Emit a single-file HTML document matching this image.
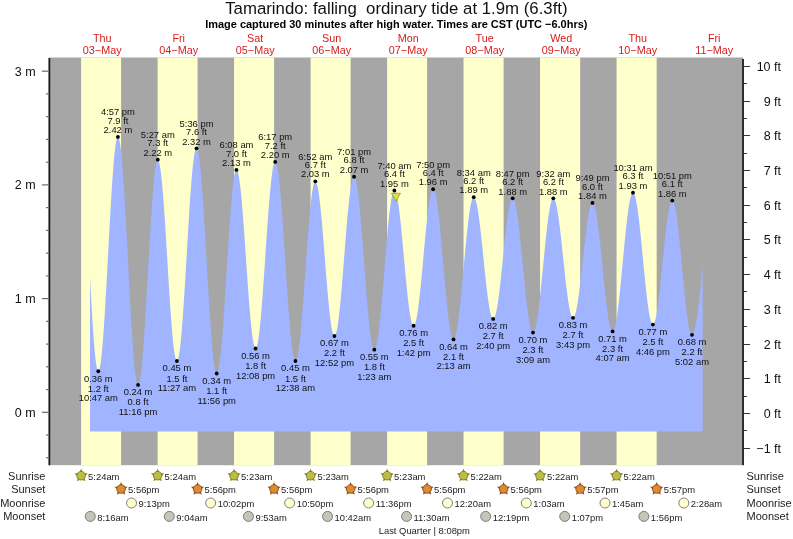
<!DOCTYPE html><html><head><meta charset="utf-8"><style>html,body{margin:0;padding:0;background:#fff;overflow:hidden;width:793px;height:539px;}svg{display:block;will-change:transform;}text{font-family:"Liberation Sans",sans-serif;}</style></head><body>
<svg width="793" height="539" viewBox="0 0 793 539">
<rect width="793" height="539" fill="#fff"/>
<rect x="49.0" y="57.5" width="694.0" height="407.7" fill="#a6a6a6"/><rect x="81.11" y="57.5" width="39.95" height="407.7" fill="#ffffcc"/><rect x="157.62" y="57.5" width="39.95" height="407.7" fill="#ffffcc"/><rect x="234.08" y="57.5" width="40.01" height="407.7" fill="#ffffcc"/><rect x="310.58" y="57.5" width="40.01" height="407.7" fill="#ffffcc"/><rect x="387.09" y="57.5" width="40.01" height="407.7" fill="#ffffcc"/><rect x="463.54" y="57.5" width="40.06" height="407.7" fill="#ffffcc"/><rect x="540.05" y="57.5" width="40.11" height="407.7" fill="#ffffcc"/><rect x="616.56" y="57.5" width="40.11" height="407.7" fill="#ffffcc"/>
<polygon points="90.00,431.5 90.00,277.61 90.68,290.23 91.36,302.43 92.04,314.07 92.72,324.97 93.40,335.00 94.08,344.02 94.77,351.90 95.45,358.55 96.13,363.86 96.81,367.78 97.49,370.25 98.17,371.23 98.85,370.76 99.53,368.90 100.21,365.68 100.89,361.15 101.57,355.35 102.25,348.35 102.93,340.24 103.62,331.11 104.30,321.07 104.98,310.23 105.66,298.73 106.34,286.71 107.02,274.30 107.70,261.65 108.38,248.91 109.06,236.23 109.74,223.76 110.42,211.65 111.10,200.04 111.78,189.08 112.47,178.88 113.15,169.57 113.83,161.26 114.51,154.04 115.19,148.01 115.87,143.24 116.55,139.77 117.23,137.66 117.91,136.93 118.59,137.58 119.27,139.63 119.95,143.04 120.63,147.78 121.32,153.79 122.00,161.02 122.68,169.37 123.36,178.75 124.04,189.05 124.72,200.17 125.40,211.97 126.08,224.32 126.76,237.09 127.44,250.12 128.12,263.28 128.80,276.40 129.49,289.36 130.17,301.99 130.85,314.16 131.53,325.73 132.21,336.57 132.89,346.56 133.57,355.58 134.25,363.54 134.93,370.33 135.61,375.90 136.29,380.17 136.97,383.09 137.65,384.64 138.34,384.80 139.02,383.62 139.70,381.13 140.38,377.37 141.06,372.36 141.74,366.18 142.42,358.90 143.10,350.59 143.78,341.37 144.46,331.33 145.14,320.60 145.82,309.30 146.50,297.57 147.19,285.53 147.87,273.35 148.55,261.15 149.23,249.08 149.91,237.28 150.59,225.89 151.27,215.06 151.95,204.89 152.63,195.52 153.31,187.05 153.99,179.58 154.67,173.20 155.35,167.99 156.04,164.00 156.72,161.29 157.40,159.89 158.08,159.79 158.76,160.97 159.44,163.39 160.12,167.02 160.80,171.81 161.48,177.71 162.16,184.64 162.84,192.52 163.52,201.24 164.20,210.71 164.89,220.79 165.57,231.36 166.25,242.30 166.93,253.47 167.61,264.72 168.29,275.91 168.97,286.91 169.65,297.58 170.33,307.79 171.01,317.40 171.69,326.30 172.37,334.37 173.05,341.52 173.74,347.66 174.42,352.70 175.10,356.60 175.78,359.29 176.46,360.74 177.14,360.94 177.82,359.88 178.50,357.56 179.18,354.03 179.86,349.31 180.54,343.47 181.22,336.57 181.91,328.69 182.59,319.94 183.27,310.41 183.95,300.22 184.63,289.48 185.31,278.34 185.99,266.91 186.67,255.33 187.35,243.75 188.03,232.29 188.71,221.11 189.39,210.32 190.07,200.06 190.76,190.44 191.44,181.59 192.12,173.61 192.80,166.60 193.48,160.63 194.16,155.77 194.84,152.10 195.52,149.64 196.20,148.43 196.88,148.49 197.56,149.80 198.24,152.36 198.92,156.14 199.61,161.09 200.29,167.16 200.97,174.28 201.65,182.38 202.33,191.35 203.01,201.11 203.69,211.53 204.37,222.51 205.05,233.92 205.73,245.63 206.41,257.51 207.09,269.43 207.77,281.26 208.46,292.85 209.14,304.09 209.82,314.85 210.50,325.00 211.18,334.43 211.86,343.04 212.54,350.72 213.22,357.40 213.90,363.00 214.58,367.46 215.26,370.71 215.94,372.74 216.62,373.52 217.31,373.06 217.99,371.41 218.67,368.60 219.35,364.65 220.03,359.62 220.71,353.56 221.39,346.54 222.07,338.65 222.75,329.97 223.43,320.61 224.11,310.68 224.79,300.30 225.47,289.58 226.16,278.65 226.84,267.64 227.52,256.68 228.20,245.89 228.88,235.40 229.56,225.35 230.24,215.83 230.92,206.96 231.60,198.86 232.28,191.61 232.96,185.29 233.64,179.99 234.32,175.75 235.01,172.64 235.69,170.69 236.37,169.93 237.05,170.32 237.73,171.83 238.41,174.42 239.09,178.08 239.77,182.75 240.45,188.37 241.13,194.88 241.81,202.19 242.49,210.22 243.18,218.86 243.86,228.00 244.54,237.53 245.22,247.33 245.90,257.28 246.58,267.25 247.26,277.12 247.94,286.77 248.62,296.08 249.30,304.92 249.98,313.20 250.66,320.80 251.34,327.63 252.03,333.60 252.71,338.65 253.39,342.70 254.07,345.71 254.75,347.64 255.43,348.47 256.11,348.18 256.79,346.79 257.47,344.31 258.15,340.77 258.83,336.21 259.51,330.69 260.19,324.27 260.88,317.03 261.56,309.06 262.24,300.45 262.92,291.30 263.60,281.72 264.28,271.82 264.96,261.73 265.64,251.56 266.32,241.44 267.00,231.47 267.68,221.80 268.36,212.51 269.04,203.74 269.73,195.58 270.41,188.12 271.09,181.47 271.77,175.69 272.45,170.86 273.13,167.03 273.81,164.25 274.49,162.55 275.17,161.95 275.85,162.46 276.53,164.08 277.21,166.78 277.89,170.54 278.58,175.31 279.26,181.05 279.94,187.68 280.62,195.13 281.30,203.33 281.98,212.17 282.66,221.56 283.34,231.40 284.02,241.57 284.70,251.97 285.38,262.47 286.06,272.96 286.74,283.32 287.43,293.44 288.11,303.20 288.79,312.50 289.47,321.23 290.15,329.29 290.83,336.60 291.51,343.06 292.19,348.62 292.87,353.21 293.55,356.77 294.23,359.27 294.91,360.68 295.59,360.99 296.28,360.23 296.96,358.44 297.64,355.65 298.32,351.87 299.00,347.16 299.68,341.58 300.36,335.17 301.04,328.03 301.72,320.22 302.40,311.85 303.08,303.01 303.76,293.80 304.44,284.33 305.13,274.70 305.81,265.04 306.49,255.44 307.17,246.03 307.85,236.90 308.53,228.18 309.21,219.95 309.89,212.31 310.57,205.35 311.25,199.16 311.93,193.80 312.61,189.33 313.30,185.81 313.98,183.28 314.66,181.77 315.34,181.29 316.02,181.81 316.70,183.29 317.38,185.71 318.06,189.04 318.74,193.24 319.42,198.26 320.10,204.03 320.78,210.49 321.46,217.54 322.15,225.11 322.83,233.10 323.51,241.41 324.19,249.93 324.87,258.56 325.55,267.19 326.23,275.71 326.91,284.03 327.59,292.02 328.27,299.60 328.95,306.66 329.63,313.13 330.31,318.92 331.00,323.95 331.68,328.16 332.36,331.51 333.04,333.95 333.72,335.45 334.40,335.99 335.08,335.57 335.76,334.21 336.44,331.92 337.12,328.73 337.80,324.69 338.48,319.83 339.16,314.22 339.85,307.92 340.53,301.01 341.21,293.56 341.89,285.68 342.57,277.44 343.25,268.96 343.93,260.32 344.61,251.64 345.29,243.01 345.97,234.55 346.65,226.34 347.33,218.49 348.01,211.09 348.70,204.22 349.38,197.98 350.06,192.43 350.74,187.65 351.42,183.67 352.10,180.57 352.78,178.36 353.46,177.08 354.14,176.75 354.82,177.37 355.50,178.94 356.18,181.44 356.86,184.85 357.55,189.14 358.23,194.24 358.91,200.11 359.59,206.67 360.27,213.87 360.95,221.61 361.63,229.81 362.31,238.39 362.99,247.24 363.67,256.26 364.35,265.36 365.03,274.44 365.71,283.40 366.40,292.12 367.08,300.53 367.76,308.53 368.44,316.02 369.12,322.92 369.80,329.16 370.48,334.67 371.16,339.39 371.84,343.26 372.52,346.25 373.20,348.31 373.88,349.42 374.57,349.59 375.25,348.83 375.93,347.18 376.61,344.65 377.29,341.27 377.97,337.07 378.65,332.12 379.33,326.45 380.01,320.15 380.69,313.27 381.37,305.90 382.05,298.12 382.73,290.02 383.42,281.69 384.10,273.23 384.78,264.73 385.46,256.29 386.14,248.01 386.82,239.98 387.50,232.29 388.18,225.04 388.86,218.29 389.54,212.13 390.22,206.63 390.90,201.86 391.58,197.86 392.27,194.68 392.95,192.36 393.63,190.93 394.31,190.39 394.99,190.73 395.67,191.91 396.35,193.90 397.03,196.69 397.71,200.23 398.39,204.49 399.07,209.41 399.75,214.93 400.43,220.98 401.12,227.49 401.80,234.38 402.48,241.56 403.16,248.95 403.84,256.45 404.52,263.97 405.20,271.41 405.88,278.69 406.56,285.72 407.24,292.40 407.92,298.66 408.60,304.42 409.28,309.61 409.97,314.16 410.65,318.02 411.33,321.13 412.01,323.47 412.69,325.00 413.37,325.70 414.05,325.57 414.73,324.63 415.41,322.88 416.09,320.36 416.77,317.08 417.45,313.09 418.13,308.43 418.82,303.17 419.50,297.36 420.18,291.07 420.86,284.38 421.54,277.37 422.22,270.13 422.90,262.73 423.58,255.27 424.26,247.83 424.94,240.52 425.62,233.40 426.30,226.58 426.99,220.12 427.67,214.11 428.35,208.62 429.03,203.71 429.71,199.44 430.39,195.87 431.07,193.04 431.75,190.98 432.43,189.71 433.11,189.25 433.79,189.62 434.47,190.80 435.15,192.80 435.84,195.59 436.52,199.14 437.20,203.41 437.88,208.35 438.56,213.90 439.24,220.02 439.92,226.62 440.60,233.64 441.28,241.00 441.96,248.61 442.64,256.40 443.32,264.28 444.00,272.15 444.69,279.94 445.37,287.56 446.05,294.92 446.73,301.94 447.41,308.55 448.09,314.67 448.77,320.24 449.45,325.19 450.13,329.46 450.81,333.02 451.49,335.82 452.17,337.83 452.85,339.02 453.54,339.40 454.22,338.96 454.90,337.74 455.58,335.74 456.26,332.99 456.94,329.52 457.62,325.37 458.30,320.58 458.98,315.21 459.66,309.31 460.34,302.96 461.02,296.22 461.70,289.17 462.39,281.88 463.07,274.45 463.75,266.94 464.43,259.46 465.11,252.07 465.79,244.86 466.47,237.91 467.15,231.30 467.83,225.11 468.51,219.39 469.19,214.22 469.87,209.66 470.55,205.75 471.24,202.54 471.92,200.06 472.60,198.34 473.28,197.40 473.96,197.25 474.64,197.85 475.32,199.17 476.00,201.21 476.68,203.94 477.36,207.31 478.04,211.31 478.72,215.86 479.40,220.93 480.09,226.45 480.77,232.35 481.45,238.56 482.13,245.00 482.81,251.60 483.49,258.28 484.17,264.96 484.85,271.56 485.53,277.99 486.21,284.18 486.89,290.06 487.57,295.55 488.26,300.58 488.94,305.11 489.62,309.06 490.30,312.40 490.98,315.08 491.66,317.07 492.34,318.35 493.02,318.90 493.70,318.72 494.38,317.82 495.06,316.20 495.74,313.90 496.42,310.92 497.11,307.33 497.79,303.14 498.47,298.42 499.15,293.22 499.83,287.61 500.51,281.65 501.19,275.41 501.87,268.97 502.55,262.41 503.23,255.80 503.91,249.22 504.59,242.76 505.27,236.49 505.96,230.49 506.64,224.82 507.32,219.56 508.00,214.77 508.68,210.51 509.36,206.82 510.04,203.76 510.72,201.36 511.40,199.64 512.08,198.64 512.76,198.35 513.44,198.81 514.12,200.00 514.81,201.92 515.49,204.54 516.17,207.84 516.85,211.78 517.53,216.32 518.21,221.39 518.89,226.96 519.57,232.96 520.25,239.32 520.93,245.96 521.61,252.82 522.29,259.83 522.97,266.89 523.66,273.94 524.34,280.90 525.02,287.68 525.70,294.22 526.38,300.44 527.06,306.27 527.74,311.65 528.42,316.51 529.10,320.81 529.78,324.50 530.46,327.53 531.14,329.87 531.82,331.50 532.51,332.39 533.19,332.54 533.87,331.95 534.55,330.63 535.23,328.59 535.91,325.85 536.59,322.44 537.27,318.41 537.95,313.79 538.63,308.64 539.31,303.01 539.99,296.97 540.67,290.58 541.36,283.91 542.04,277.04 542.72,270.04 543.40,262.99 544.08,255.97 544.76,249.05 545.44,242.31 546.12,235.83 546.80,229.68 547.48,223.92 548.16,218.62 548.84,213.83 549.53,209.62 550.21,206.02 550.89,203.08 551.57,200.83 552.25,199.29 552.93,198.48 553.61,198.41 554.29,199.04 554.97,200.37 555.65,202.38 556.33,205.04 557.01,208.33 557.69,212.20 558.38,216.61 559.06,221.51 559.74,226.84 560.42,232.54 561.10,238.53 561.78,244.76 562.46,251.14 563.14,257.61 563.82,264.08 564.50,270.47 565.18,276.73 565.86,282.76 566.54,288.50 567.23,293.89 567.91,298.85 568.59,303.34 569.27,307.29 569.95,310.66 570.63,313.42 571.31,315.52 571.99,316.95 572.67,317.68 573.35,317.72 574.03,317.06 574.71,315.71 575.39,313.70 576.08,311.04 576.76,307.77 577.44,303.92 578.12,299.55 578.80,294.71 579.48,289.45 580.16,283.83 580.84,277.94 581.52,271.83 582.20,265.58 582.88,259.27 583.56,252.97 584.24,246.77 584.93,240.72 585.61,234.91 586.29,229.41 586.97,224.29 587.65,219.60 588.33,215.40 589.01,211.74 589.69,208.68 590.37,206.23 591.05,204.44 591.73,203.33 592.41,202.90 593.09,203.19 593.78,204.19 594.46,205.92 595.14,208.33 595.82,211.41 596.50,215.13 597.18,219.43 597.86,224.27 598.54,229.60 599.22,235.36 599.90,241.47 600.58,247.88 601.26,254.51 601.94,261.28 602.63,268.11 603.31,274.94 603.99,281.67 604.67,288.25 605.35,294.58 606.03,300.60 606.71,306.25 607.39,311.45 608.07,316.15 608.75,320.30 609.43,323.84 610.11,326.74 610.79,328.97 611.48,330.49 612.16,331.30 612.84,331.38 613.52,330.70 614.20,329.28 614.88,327.11 615.56,324.23 616.24,320.66 616.92,316.45 617.60,311.65 618.28,306.30 618.96,300.46 619.65,294.21 620.33,287.60 621.01,280.71 621.69,273.61 622.37,266.39 623.05,259.12 623.73,251.88 624.41,244.75 625.09,237.82 625.77,231.15 626.45,224.82 627.13,218.89 627.81,213.44 628.50,208.53 629.18,204.20 629.86,200.51 630.54,197.49 631.22,195.19 631.90,193.61 632.58,192.79 633.26,192.73 633.94,193.43 634.62,194.87 635.30,197.06 635.98,199.95 636.66,203.51 637.35,207.71 638.03,212.50 638.71,217.82 639.39,223.61 640.07,229.80 640.75,236.32 641.43,243.10 642.11,250.06 642.79,257.12 643.47,264.20 644.15,271.21 644.83,278.07 645.51,284.72 646.20,291.06 646.88,297.03 647.56,302.56 648.24,307.58 648.92,312.04 649.60,315.88 650.28,319.07 650.96,321.56 651.64,323.32 652.32,324.34 653.00,324.60 653.68,324.11 654.36,322.87 655.05,320.90 655.73,318.22 656.41,314.87 657.09,310.88 657.77,306.30 658.45,301.20 659.13,295.62 659.81,289.64 660.49,283.34 661.17,276.78 661.85,270.05 662.53,263.23 663.21,256.41 663.90,249.66 664.58,243.06 665.26,236.71 665.94,230.67 666.62,225.01 667.30,219.82 667.98,215.14 668.66,211.04 669.34,207.57 670.02,204.77 670.70,202.67 671.38,201.29 672.07,200.67 672.75,200.80 673.43,201.72 674.11,203.42 674.79,205.87 675.47,209.05 676.15,212.92 676.83,217.43 677.51,222.54 678.19,228.18 678.87,234.28 679.55,240.78 680.23,247.59 680.92,254.64 681.60,261.85 682.28,269.12 682.96,276.38 683.64,283.54 684.32,290.51 685.00,297.21 685.68,303.57 686.36,309.50 687.04,314.94 687.72,319.83 688.40,324.11 689.08,327.72 689.77,330.63 690.45,332.79 691.13,334.20 691.81,334.82 692.49,334.67 693.17,333.82 693.85,332.29 694.53,330.08 695.21,327.22 695.89,323.74 696.57,319.67 697.25,315.07 697.93,309.97 698.62,304.43 699.30,298.51 699.98,292.26 700.66,285.76 701.34,279.07 702.02,272.27 702.70,265.42 702.70,431.5" fill="#a0b4ff"/>
<text x="396.4" y="14.4" font-size="16.8" text-anchor="middle" fill="#111">Tamarindo: falling&#160; ordinary tide at 1.9m (6.3ft)</text>
<text x="396.3" y="28.4" font-size="10.97" font-weight="bold" text-anchor="middle" fill="#000">Image captured 30 minutes after high water. Times are CST (UTC &#8722;6.0hrs)</text>
<text x="102.2" y="41.5" font-size="10.8" text-anchor="middle" fill="#d41c1c">Thu</text>
<text x="102.2" y="54.1" font-size="10.8" text-anchor="middle" fill="#d41c1c">03&#8722;May</text>
<text x="178.7" y="41.5" font-size="10.8" text-anchor="middle" fill="#d41c1c">Fri</text>
<text x="178.7" y="54.1" font-size="10.8" text-anchor="middle" fill="#d41c1c">04&#8722;May</text>
<text x="255.2" y="41.5" font-size="10.8" text-anchor="middle" fill="#d41c1c">Sat</text>
<text x="255.2" y="54.1" font-size="10.8" text-anchor="middle" fill="#d41c1c">05&#8722;May</text>
<text x="331.7" y="41.5" font-size="10.8" text-anchor="middle" fill="#d41c1c">Sun</text>
<text x="331.7" y="54.1" font-size="10.8" text-anchor="middle" fill="#d41c1c">06&#8722;May</text>
<text x="408.2" y="41.5" font-size="10.8" text-anchor="middle" fill="#d41c1c">Mon</text>
<text x="408.2" y="54.1" font-size="10.8" text-anchor="middle" fill="#d41c1c">07&#8722;May</text>
<text x="484.7" y="41.5" font-size="10.8" text-anchor="middle" fill="#d41c1c">Tue</text>
<text x="484.7" y="54.1" font-size="10.8" text-anchor="middle" fill="#d41c1c">08&#8722;May</text>
<text x="561.2" y="41.5" font-size="10.8" text-anchor="middle" fill="#d41c1c">Wed</text>
<text x="561.2" y="54.1" font-size="10.8" text-anchor="middle" fill="#d41c1c">09&#8722;May</text>
<text x="637.7" y="41.5" font-size="10.8" text-anchor="middle" fill="#d41c1c">Thu</text>
<text x="637.7" y="54.1" font-size="10.8" text-anchor="middle" fill="#d41c1c">10&#8722;May</text>
<text x="714.2" y="41.5" font-size="10.8" text-anchor="middle" fill="#d41c1c">Fri</text>
<text x="714.2" y="54.1" font-size="10.8" text-anchor="middle" fill="#d41c1c">11&#8722;May</text>
<circle cx="98.28" cy="371.25" r="1.9" fill="#000"/>
<text transform="translate(98.28,381.55) scale(0.96,1)" font-size="9.8" text-anchor="middle" fill="#111">0.36 m</text>
<text transform="translate(98.28,391.75) scale(0.96,1)" font-size="9.8" text-anchor="middle" fill="#111">1.2 ft</text>
<text transform="translate(98.28,401.25) scale(0.96,1)" font-size="9.8" text-anchor="middle" fill="#111">10:47 am</text>
<circle cx="117.93" cy="136.93" r="1.9" fill="#000"/>
<text transform="translate(117.93,133.12) scale(0.96,1)" font-size="9.8" text-anchor="middle" fill="#111">2.42 m</text>
<text transform="translate(117.93,123.53) scale(0.96,1)" font-size="9.8" text-anchor="middle" fill="#111">7.9 ft</text>
<text transform="translate(117.93,115.43) scale(0.96,1)" font-size="9.8" text-anchor="middle" fill="#111">4:57 pm</text>
<circle cx="138.07" cy="384.90" r="1.9" fill="#000"/>
<text transform="translate(138.07,395.20) scale(0.96,1)" font-size="9.8" text-anchor="middle" fill="#111">0.24 m</text>
<text transform="translate(138.07,405.40) scale(0.96,1)" font-size="9.8" text-anchor="middle" fill="#111">0.8 ft</text>
<text transform="translate(138.07,414.90) scale(0.96,1)" font-size="9.8" text-anchor="middle" fill="#111">11:16 pm</text>
<circle cx="157.78" cy="159.67" r="1.9" fill="#000"/>
<text transform="translate(157.78,155.87) scale(0.96,1)" font-size="9.8" text-anchor="middle" fill="#111">2.22 m</text>
<text transform="translate(157.78,146.27) scale(0.96,1)" font-size="9.8" text-anchor="middle" fill="#111">7.3 ft</text>
<text transform="translate(157.78,138.17) scale(0.96,1)" font-size="9.8" text-anchor="middle" fill="#111">5:27 am</text>
<circle cx="176.91" cy="361.01" r="1.9" fill="#000"/>
<text transform="translate(176.91,371.31) scale(0.96,1)" font-size="9.8" text-anchor="middle" fill="#111">0.45 m</text>
<text transform="translate(176.91,381.51) scale(0.96,1)" font-size="9.8" text-anchor="middle" fill="#111">1.5 ft</text>
<text transform="translate(176.91,391.01) scale(0.96,1)" font-size="9.8" text-anchor="middle" fill="#111">11:27 am</text>
<circle cx="196.51" cy="148.30" r="1.9" fill="#000"/>
<text transform="translate(196.51,144.50) scale(0.96,1)" font-size="9.8" text-anchor="middle" fill="#111">2.32 m</text>
<text transform="translate(196.51,134.90) scale(0.96,1)" font-size="9.8" text-anchor="middle" fill="#111">7.6 ft</text>
<text transform="translate(196.51,126.80) scale(0.96,1)" font-size="9.8" text-anchor="middle" fill="#111">5:36 pm</text>
<circle cx="216.70" cy="373.52" r="1.9" fill="#000"/>
<text transform="translate(216.70,383.82) scale(0.96,1)" font-size="9.8" text-anchor="middle" fill="#111">0.34 m</text>
<text transform="translate(216.70,394.02) scale(0.96,1)" font-size="9.8" text-anchor="middle" fill="#111">1.1 ft</text>
<text transform="translate(216.70,403.52) scale(0.96,1)" font-size="9.8" text-anchor="middle" fill="#111">11:56 pm</text>
<circle cx="236.47" cy="169.91" r="1.9" fill="#000"/>
<text transform="translate(236.47,166.11) scale(0.96,1)" font-size="9.8" text-anchor="middle" fill="#111">2.13 m</text>
<text transform="translate(236.47,156.51) scale(0.96,1)" font-size="9.8" text-anchor="middle" fill="#111">7.0 ft</text>
<text transform="translate(236.47,148.41) scale(0.96,1)" font-size="9.8" text-anchor="middle" fill="#111">6:08 am</text>
<circle cx="255.59" cy="348.50" r="1.9" fill="#000"/>
<text transform="translate(255.59,358.80) scale(0.96,1)" font-size="9.8" text-anchor="middle" fill="#111">0.56 m</text>
<text transform="translate(255.59,369.00) scale(0.96,1)" font-size="9.8" text-anchor="middle" fill="#111">1.8 ft</text>
<text transform="translate(255.59,378.50) scale(0.96,1)" font-size="9.8" text-anchor="middle" fill="#111">12:08 pm</text>
<circle cx="275.20" cy="161.95" r="1.9" fill="#000"/>
<text transform="translate(275.20,158.15) scale(0.96,1)" font-size="9.8" text-anchor="middle" fill="#111">2.20 m</text>
<text transform="translate(275.20,148.55) scale(0.96,1)" font-size="9.8" text-anchor="middle" fill="#111">7.2 ft</text>
<text transform="translate(275.20,140.45) scale(0.96,1)" font-size="9.8" text-anchor="middle" fill="#111">6:17 pm</text>
<circle cx="295.44" cy="361.01" r="1.9" fill="#000"/>
<text transform="translate(295.44,371.31) scale(0.96,1)" font-size="9.8" text-anchor="middle" fill="#111">0.45 m</text>
<text transform="translate(295.44,381.51) scale(0.96,1)" font-size="9.8" text-anchor="middle" fill="#111">1.5 ft</text>
<text transform="translate(295.44,391.01) scale(0.96,1)" font-size="9.8" text-anchor="middle" fill="#111">12:38 am</text>
<circle cx="315.31" cy="181.29" r="1.9" fill="#000"/>
<text transform="translate(315.31,177.49) scale(0.96,1)" font-size="9.8" text-anchor="middle" fill="#111">2.03 m</text>
<text transform="translate(315.31,167.89) scale(0.96,1)" font-size="9.8" text-anchor="middle" fill="#111">6.7 ft</text>
<text transform="translate(315.31,159.79) scale(0.96,1)" font-size="9.8" text-anchor="middle" fill="#111">6:52 am</text>
<circle cx="334.44" cy="335.99" r="1.9" fill="#000"/>
<text transform="translate(334.44,346.29) scale(0.96,1)" font-size="9.8" text-anchor="middle" fill="#111">0.67 m</text>
<text transform="translate(334.44,356.49) scale(0.96,1)" font-size="9.8" text-anchor="middle" fill="#111">2.2 ft</text>
<text transform="translate(334.44,365.99) scale(0.96,1)" font-size="9.8" text-anchor="middle" fill="#111">12:52 pm</text>
<circle cx="354.04" cy="176.74" r="1.9" fill="#000"/>
<text transform="translate(354.04,172.94) scale(0.96,1)" font-size="9.8" text-anchor="middle" fill="#111">2.07 m</text>
<text transform="translate(354.04,163.34) scale(0.96,1)" font-size="9.8" text-anchor="middle" fill="#111">6.8 ft</text>
<text transform="translate(354.04,155.24) scale(0.96,1)" font-size="9.8" text-anchor="middle" fill="#111">7:01 pm</text>
<circle cx="374.34" cy="349.64" r="1.9" fill="#000"/>
<text transform="translate(374.34,359.94) scale(0.96,1)" font-size="9.8" text-anchor="middle" fill="#111">0.55 m</text>
<text transform="translate(374.34,370.14) scale(0.96,1)" font-size="9.8" text-anchor="middle" fill="#111">1.8 ft</text>
<text transform="translate(374.34,379.64) scale(0.96,1)" font-size="9.8" text-anchor="middle" fill="#111">1:23 am</text>
<circle cx="394.37" cy="190.39" r="1.9" fill="#000"/>
<text transform="translate(394.37,186.59) scale(0.96,1)" font-size="9.8" text-anchor="middle" fill="#111">1.95 m</text>
<text transform="translate(394.37,176.99) scale(0.96,1)" font-size="9.8" text-anchor="middle" fill="#111">6.4 ft</text>
<text transform="translate(394.37,168.89) scale(0.96,1)" font-size="9.8" text-anchor="middle" fill="#111">7:40 am</text>
<circle cx="413.60" cy="325.75" r="1.9" fill="#000"/>
<text transform="translate(413.60,336.05) scale(0.96,1)" font-size="9.8" text-anchor="middle" fill="#111">0.76 m</text>
<text transform="translate(413.60,346.25) scale(0.96,1)" font-size="9.8" text-anchor="middle" fill="#111">2.5 ft</text>
<text transform="translate(413.60,355.75) scale(0.96,1)" font-size="9.8" text-anchor="middle" fill="#111">1:42 pm</text>
<circle cx="433.15" cy="189.25" r="1.9" fill="#000"/>
<text transform="translate(433.15,185.45) scale(0.96,1)" font-size="9.8" text-anchor="middle" fill="#111">1.96 m</text>
<text transform="translate(433.15,175.85) scale(0.96,1)" font-size="9.8" text-anchor="middle" fill="#111">6.4 ft</text>
<text transform="translate(433.15,167.75) scale(0.96,1)" font-size="9.8" text-anchor="middle" fill="#111">7:50 pm</text>
<circle cx="453.50" cy="339.40" r="1.9" fill="#000"/>
<text transform="translate(453.50,349.70) scale(0.96,1)" font-size="9.8" text-anchor="middle" fill="#111">0.64 m</text>
<text transform="translate(453.50,359.90) scale(0.96,1)" font-size="9.8" text-anchor="middle" fill="#111">2.1 ft</text>
<text transform="translate(453.50,369.40) scale(0.96,1)" font-size="9.8" text-anchor="middle" fill="#111">2:13 am</text>
<circle cx="473.74" cy="197.21" r="1.9" fill="#000"/>
<text transform="translate(473.74,193.41) scale(0.96,1)" font-size="9.8" text-anchor="middle" fill="#111">1.89 m</text>
<text transform="translate(473.74,183.81) scale(0.96,1)" font-size="9.8" text-anchor="middle" fill="#111">6.2 ft</text>
<text transform="translate(473.74,175.71) scale(0.96,1)" font-size="9.8" text-anchor="middle" fill="#111">8:34 am</text>
<circle cx="493.19" cy="318.93" r="1.9" fill="#000"/>
<text transform="translate(493.19,329.23) scale(0.96,1)" font-size="9.8" text-anchor="middle" fill="#111">0.82 m</text>
<text transform="translate(493.19,339.43) scale(0.96,1)" font-size="9.8" text-anchor="middle" fill="#111">2.7 ft</text>
<text transform="translate(493.19,348.93) scale(0.96,1)" font-size="9.8" text-anchor="middle" fill="#111">2:40 pm</text>
<circle cx="512.69" cy="198.35" r="1.9" fill="#000"/>
<text transform="translate(512.69,194.55) scale(0.96,1)" font-size="9.8" text-anchor="middle" fill="#111">1.88 m</text>
<text transform="translate(512.69,184.95) scale(0.96,1)" font-size="9.8" text-anchor="middle" fill="#111">6.2 ft</text>
<text transform="translate(512.69,176.85) scale(0.96,1)" font-size="9.8" text-anchor="middle" fill="#111">8:47 pm</text>
<circle cx="532.98" cy="332.57" r="1.9" fill="#000"/>
<text transform="translate(532.98,342.88) scale(0.96,1)" font-size="9.8" text-anchor="middle" fill="#111">0.70 m</text>
<text transform="translate(532.98,353.07) scale(0.96,1)" font-size="9.8" text-anchor="middle" fill="#111">2.3 ft</text>
<text transform="translate(532.98,362.57) scale(0.96,1)" font-size="9.8" text-anchor="middle" fill="#111">3:09 am</text>
<circle cx="553.33" cy="198.35" r="1.9" fill="#000"/>
<text transform="translate(553.33,194.55) scale(0.96,1)" font-size="9.8" text-anchor="middle" fill="#111">1.88 m</text>
<text transform="translate(553.33,184.95) scale(0.96,1)" font-size="9.8" text-anchor="middle" fill="#111">6.2 ft</text>
<text transform="translate(553.33,176.85) scale(0.96,1)" font-size="9.8" text-anchor="middle" fill="#111">9:32 am</text>
<circle cx="573.04" cy="317.79" r="1.9" fill="#000"/>
<text transform="translate(573.04,328.09) scale(0.96,1)" font-size="9.8" text-anchor="middle" fill="#111">0.83 m</text>
<text transform="translate(573.04,338.29) scale(0.96,1)" font-size="9.8" text-anchor="middle" fill="#111">2.7 ft</text>
<text transform="translate(573.04,347.79) scale(0.96,1)" font-size="9.8" text-anchor="middle" fill="#111">3:43 pm</text>
<circle cx="592.49" cy="202.90" r="1.9" fill="#000"/>
<text transform="translate(592.49,199.10) scale(0.96,1)" font-size="9.8" text-anchor="middle" fill="#111">1.84 m</text>
<text transform="translate(592.49,189.50) scale(0.96,1)" font-size="9.8" text-anchor="middle" fill="#111">6.0 ft</text>
<text transform="translate(592.49,181.40) scale(0.96,1)" font-size="9.8" text-anchor="middle" fill="#111">9:49 pm</text>
<circle cx="612.57" cy="331.44" r="1.9" fill="#000"/>
<text transform="translate(612.57,341.74) scale(0.96,1)" font-size="9.8" text-anchor="middle" fill="#111">0.71 m</text>
<text transform="translate(612.57,351.94) scale(0.96,1)" font-size="9.8" text-anchor="middle" fill="#111">2.3 ft</text>
<text transform="translate(612.57,361.44) scale(0.96,1)" font-size="9.8" text-anchor="middle" fill="#111">4:07 am</text>
<circle cx="632.98" cy="192.66" r="1.9" fill="#000"/>
<text transform="translate(632.98,188.86) scale(0.96,1)" font-size="9.8" text-anchor="middle" fill="#111">1.93 m</text>
<text transform="translate(632.98,179.26) scale(0.96,1)" font-size="9.8" text-anchor="middle" fill="#111">6.3 ft</text>
<text transform="translate(632.98,171.16) scale(0.96,1)" font-size="9.8" text-anchor="middle" fill="#111">10:31 am</text>
<circle cx="652.90" cy="324.61" r="1.9" fill="#000"/>
<text transform="translate(652.90,334.91) scale(0.96,1)" font-size="9.8" text-anchor="middle" fill="#111">0.77 m</text>
<text transform="translate(652.90,345.11) scale(0.96,1)" font-size="9.8" text-anchor="middle" fill="#111">2.5 ft</text>
<text transform="translate(652.90,354.61) scale(0.96,1)" font-size="9.8" text-anchor="middle" fill="#111">4:46 pm</text>
<circle cx="672.29" cy="200.62" r="1.9" fill="#000"/>
<text transform="translate(672.29,196.82) scale(0.96,1)" font-size="9.8" text-anchor="middle" fill="#111">1.86 m</text>
<text transform="translate(672.29,187.22) scale(0.96,1)" font-size="9.8" text-anchor="middle" fill="#111">6.1 ft</text>
<text transform="translate(672.29,179.12) scale(0.96,1)" font-size="9.8" text-anchor="middle" fill="#111">10:51 pm</text>
<circle cx="692.00" cy="334.85" r="1.9" fill="#000"/>
<text transform="translate(692.00,345.15) scale(0.96,1)" font-size="9.8" text-anchor="middle" fill="#111">0.68 m</text>
<text transform="translate(692.00,355.35) scale(0.96,1)" font-size="9.8" text-anchor="middle" fill="#111">2.2 ft</text>
<text transform="translate(692.00,364.85) scale(0.96,1)" font-size="9.8" text-anchor="middle" fill="#111">5:02 am</text>
<polygon points="391.46,193.27 400.46,193.27 395.96,201.27" fill="#dede40" stroke="#9a9a20" stroke-width="0.8"/>
<rect x="48.45" y="58" width="1.8" height="407.2" fill="#16181a"/>
<rect x="742" y="59" width="2" height="406.2" fill="#2e2e2c"/>
<line x1="46" y1="457.8" x2="48.5" y2="457.8" stroke="#6a6a6a" stroke-width="1.2"/>
<line x1="46" y1="435.0" x2="48.5" y2="435.0" stroke="#6a6a6a" stroke-width="1.2"/>
<line x1="42" y1="412.3" x2="48.5" y2="412.3" stroke="#6a6a6a" stroke-width="1.2"/>
<text x="35.7" y="416.8" font-size="12.5" text-anchor="end" fill="#111">0 m</text>
<line x1="46" y1="389.6" x2="48.5" y2="389.6" stroke="#6a6a6a" stroke-width="1.2"/>
<line x1="46" y1="366.8" x2="48.5" y2="366.8" stroke="#6a6a6a" stroke-width="1.2"/>
<line x1="46" y1="344.1" x2="48.5" y2="344.1" stroke="#6a6a6a" stroke-width="1.2"/>
<line x1="46" y1="321.3" x2="48.5" y2="321.3" stroke="#6a6a6a" stroke-width="1.2"/>
<line x1="42" y1="298.6" x2="48.5" y2="298.6" stroke="#6a6a6a" stroke-width="1.2"/>
<text x="35.7" y="303.1" font-size="12.5" text-anchor="end" fill="#111">1 m</text>
<line x1="46" y1="275.9" x2="48.5" y2="275.9" stroke="#6a6a6a" stroke-width="1.2"/>
<line x1="46" y1="253.1" x2="48.5" y2="253.1" stroke="#6a6a6a" stroke-width="1.2"/>
<line x1="46" y1="230.4" x2="48.5" y2="230.4" stroke="#6a6a6a" stroke-width="1.2"/>
<line x1="46" y1="207.6" x2="48.5" y2="207.6" stroke="#6a6a6a" stroke-width="1.2"/>
<line x1="42" y1="184.9" x2="48.5" y2="184.9" stroke="#6a6a6a" stroke-width="1.2"/>
<text x="35.7" y="189.4" font-size="12.5" text-anchor="end" fill="#111">2 m</text>
<line x1="46" y1="162.2" x2="48.5" y2="162.2" stroke="#6a6a6a" stroke-width="1.2"/>
<line x1="46" y1="139.4" x2="48.5" y2="139.4" stroke="#6a6a6a" stroke-width="1.2"/>
<line x1="46" y1="116.7" x2="48.5" y2="116.7" stroke="#6a6a6a" stroke-width="1.2"/>
<line x1="46" y1="93.9" x2="48.5" y2="93.9" stroke="#6a6a6a" stroke-width="1.2"/>
<line x1="42" y1="71.2" x2="48.5" y2="71.2" stroke="#6a6a6a" stroke-width="1.2"/>
<text x="35.7" y="75.7" font-size="12.5" text-anchor="end" fill="#111">3 m</text>
<line x1="744" y1="448.5" x2="750" y2="448.5" stroke="#3a3a3a" stroke-width="1"/>
<text x="781" y="452.6" font-size="12.5" text-anchor="end" fill="#111">&#8722;1 ft</text>
<line x1="744" y1="430.5" x2="747" y2="430.5" stroke="#3a3a3a" stroke-width="1"/>
<line x1="744" y1="413.5" x2="750" y2="413.5" stroke="#3a3a3a" stroke-width="1"/>
<text x="781" y="417.9" font-size="12.5" text-anchor="end" fill="#111">0 ft</text>
<line x1="744" y1="396.5" x2="747" y2="396.5" stroke="#3a3a3a" stroke-width="1"/>
<line x1="744" y1="378.5" x2="750" y2="378.5" stroke="#3a3a3a" stroke-width="1"/>
<text x="781" y="383.2" font-size="12.5" text-anchor="end" fill="#111">1 ft</text>
<line x1="744" y1="361.5" x2="747" y2="361.5" stroke="#3a3a3a" stroke-width="1"/>
<line x1="744" y1="344.5" x2="750" y2="344.5" stroke="#3a3a3a" stroke-width="1"/>
<text x="781" y="348.5" font-size="12.5" text-anchor="end" fill="#111">2 ft</text>
<line x1="744" y1="326.5" x2="747" y2="326.5" stroke="#3a3a3a" stroke-width="1"/>
<line x1="744" y1="309.5" x2="750" y2="309.5" stroke="#3a3a3a" stroke-width="1"/>
<text x="781" y="313.8" font-size="12.5" text-anchor="end" fill="#111">3 ft</text>
<line x1="744" y1="291.5" x2="747" y2="291.5" stroke="#3a3a3a" stroke-width="1"/>
<line x1="744" y1="274.5" x2="750" y2="274.5" stroke="#3a3a3a" stroke-width="1"/>
<text x="781" y="279.1" font-size="12.5" text-anchor="end" fill="#111">4 ft</text>
<line x1="744" y1="257.5" x2="747" y2="257.5" stroke="#3a3a3a" stroke-width="1"/>
<line x1="744" y1="239.5" x2="750" y2="239.5" stroke="#3a3a3a" stroke-width="1"/>
<text x="781" y="244.4" font-size="12.5" text-anchor="end" fill="#111">5 ft</text>
<line x1="744" y1="222.5" x2="747" y2="222.5" stroke="#3a3a3a" stroke-width="1"/>
<line x1="744" y1="205.5" x2="750" y2="205.5" stroke="#3a3a3a" stroke-width="1"/>
<text x="781" y="209.7" font-size="12.5" text-anchor="end" fill="#111">6 ft</text>
<line x1="744" y1="187.5" x2="747" y2="187.5" stroke="#3a3a3a" stroke-width="1"/>
<line x1="744" y1="170.5" x2="750" y2="170.5" stroke="#3a3a3a" stroke-width="1"/>
<text x="781" y="175.0" font-size="12.5" text-anchor="end" fill="#111">7 ft</text>
<line x1="744" y1="153.5" x2="747" y2="153.5" stroke="#3a3a3a" stroke-width="1"/>
<line x1="744" y1="135.5" x2="750" y2="135.5" stroke="#3a3a3a" stroke-width="1"/>
<text x="781" y="140.3" font-size="12.5" text-anchor="end" fill="#111">8 ft</text>
<line x1="744" y1="118.5" x2="747" y2="118.5" stroke="#3a3a3a" stroke-width="1"/>
<line x1="744" y1="101.5" x2="750" y2="101.5" stroke="#3a3a3a" stroke-width="1"/>
<text x="781" y="105.6" font-size="12.5" text-anchor="end" fill="#111">9 ft</text>
<line x1="744" y1="83.5" x2="747" y2="83.5" stroke="#3a3a3a" stroke-width="1"/>
<line x1="744" y1="66.5" x2="750" y2="66.5" stroke="#3a3a3a" stroke-width="1"/>
<text x="781" y="70.9" font-size="12.5" text-anchor="end" fill="#111">10 ft</text>
<text x="45.4" y="479.7" font-size="11" text-anchor="end" fill="#222">Sunrise</text>
<text x="746.5" y="479.7" font-size="11" fill="#222">Sunrise</text>
<text x="45.4" y="493.0" font-size="11" text-anchor="end" fill="#222">Sunset</text>
<text x="746.5" y="493.0" font-size="11" fill="#222">Sunset</text>
<text x="45.4" y="507.0" font-size="11" text-anchor="end" fill="#222">Moonrise</text>
<text x="746.5" y="507.0" font-size="11" fill="#222">Moonrise</text>
<text x="45.4" y="520.4" font-size="11" text-anchor="end" fill="#222">Moonset</text>
<text x="746.5" y="520.4" font-size="11" fill="#222">Moonset</text>
<polygon points="81.11,468.70 83.00,473.11 87.77,473.54 84.16,476.69 85.23,481.36 81.11,478.90 77.00,481.36 78.07,476.69 74.46,473.54 79.23,473.11" fill="#80801e"/><circle cx="81.11" cy="475.70" r="4.3" fill="#bcbc48" stroke="#80801e" stroke-width="0.9"/>
<text transform="translate(88.11,479.80) scale(0.96,1)" font-size="9.8" fill="#222">5:24am</text>
<polygon points="121.07,482.00 122.95,486.41 127.73,486.84 124.11,489.99 125.18,494.66 121.07,492.20 116.95,494.66 118.02,489.99 114.41,486.84 119.19,486.41" fill="#8a5018"/><circle cx="121.07" cy="489.00" r="4.3" fill="#de8a32" stroke="#8a5018" stroke-width="0.9"/>
<text transform="translate(128.07,493.10) scale(0.96,1)" font-size="9.8" fill="#222">5:56pm</text>
<polygon points="157.62,468.70 159.50,473.11 164.28,473.54 160.66,476.69 161.74,481.36 157.62,478.90 153.51,481.36 154.58,476.69 150.96,473.54 155.74,473.11" fill="#80801e"/><circle cx="157.62" cy="475.70" r="4.3" fill="#bcbc48" stroke="#80801e" stroke-width="0.9"/>
<text transform="translate(164.62,479.80) scale(0.96,1)" font-size="9.8" fill="#222">5:24am</text>
<polygon points="197.58,482.00 199.46,486.41 204.23,486.84 200.62,489.99 201.69,494.66 197.58,492.20 193.46,494.66 194.53,489.99 190.92,486.84 195.69,486.41" fill="#8a5018"/><circle cx="197.58" cy="489.00" r="4.3" fill="#de8a32" stroke="#8a5018" stroke-width="0.9"/>
<text transform="translate(204.58,493.10) scale(0.96,1)" font-size="9.8" fill="#222">5:56pm</text>
<polygon points="234.08,468.70 235.96,473.11 240.73,473.54 237.12,476.69 238.19,481.36 234.08,478.90 229.96,481.36 231.03,476.69 227.42,473.54 232.19,473.11" fill="#80801e"/><circle cx="234.08" cy="475.70" r="4.3" fill="#bcbc48" stroke="#80801e" stroke-width="0.9"/>
<text transform="translate(241.08,479.80) scale(0.96,1)" font-size="9.8" fill="#222">5:23am</text>
<polygon points="274.08,482.00 275.96,486.41 280.74,486.84 277.13,489.99 278.20,494.66 274.08,492.20 269.97,494.66 271.04,489.99 267.42,486.84 272.20,486.41" fill="#8a5018"/><circle cx="274.08" cy="489.00" r="4.3" fill="#de8a32" stroke="#8a5018" stroke-width="0.9"/>
<text transform="translate(281.08,493.10) scale(0.96,1)" font-size="9.8" fill="#222">5:56pm</text>
<polygon points="310.58,468.70 312.46,473.11 317.24,473.54 313.63,476.69 314.70,481.36 310.58,478.90 306.47,481.36 307.54,476.69 303.93,473.54 308.70,473.11" fill="#80801e"/><circle cx="310.58" cy="475.70" r="4.3" fill="#bcbc48" stroke="#80801e" stroke-width="0.9"/>
<text transform="translate(317.58,479.80) scale(0.96,1)" font-size="9.8" fill="#222">5:23am</text>
<polygon points="350.59,482.00 352.47,486.41 357.25,486.84 353.63,489.99 354.70,494.66 350.59,492.20 346.47,494.66 347.55,489.99 343.93,486.84 348.71,486.41" fill="#8a5018"/><circle cx="350.59" cy="489.00" r="4.3" fill="#de8a32" stroke="#8a5018" stroke-width="0.9"/>
<text transform="translate(357.59,493.10) scale(0.96,1)" font-size="9.8" fill="#222">5:56pm</text>
<polygon points="387.09,468.70 388.97,473.11 393.75,473.54 390.13,476.69 391.20,481.36 387.09,478.90 382.98,481.36 384.05,476.69 380.43,473.54 385.21,473.11" fill="#80801e"/><circle cx="387.09" cy="475.70" r="4.3" fill="#bcbc48" stroke="#80801e" stroke-width="0.9"/>
<text transform="translate(394.09,479.80) scale(0.96,1)" font-size="9.8" fill="#222">5:23am</text>
<polygon points="427.10,482.00 428.98,486.41 433.75,486.84 430.14,489.99 431.21,494.66 427.10,492.20 422.98,494.66 424.05,489.99 420.44,486.84 425.22,486.41" fill="#8a5018"/><circle cx="427.10" cy="489.00" r="4.3" fill="#de8a32" stroke="#8a5018" stroke-width="0.9"/>
<text transform="translate(434.10,493.10) scale(0.96,1)" font-size="9.8" fill="#222">5:56pm</text>
<polygon points="463.54,468.70 465.42,473.11 470.20,473.54 466.59,476.69 467.66,481.36 463.54,478.90 459.43,481.36 460.50,476.69 456.89,473.54 461.66,473.11" fill="#80801e"/><circle cx="463.54" cy="475.70" r="4.3" fill="#bcbc48" stroke="#80801e" stroke-width="0.9"/>
<text transform="translate(470.54,479.80) scale(0.96,1)" font-size="9.8" fill="#222">5:22am</text>
<polygon points="503.60,482.00 505.48,486.41 510.26,486.84 506.65,489.99 507.72,494.66 503.60,492.20 499.49,494.66 500.56,489.99 496.95,486.84 501.72,486.41" fill="#8a5018"/><circle cx="503.60" cy="489.00" r="4.3" fill="#de8a32" stroke="#8a5018" stroke-width="0.9"/>
<text transform="translate(510.60,493.10) scale(0.96,1)" font-size="9.8" fill="#222">5:56pm</text>
<polygon points="540.05,468.70 541.93,473.11 546.71,473.54 543.09,476.69 544.17,481.36 540.05,478.90 535.94,481.36 537.01,476.69 533.39,473.54 538.17,473.11" fill="#80801e"/><circle cx="540.05" cy="475.70" r="4.3" fill="#bcbc48" stroke="#80801e" stroke-width="0.9"/>
<text transform="translate(547.05,479.80) scale(0.96,1)" font-size="9.8" fill="#222">5:22am</text>
<polygon points="580.16,482.00 582.05,486.41 586.82,486.84 583.21,489.99 584.28,494.66 580.16,492.20 576.05,494.66 577.12,489.99 573.51,486.84 578.28,486.41" fill="#8a5018"/><circle cx="580.16" cy="489.00" r="4.3" fill="#de8a32" stroke="#8a5018" stroke-width="0.9"/>
<text transform="translate(587.16,493.10) scale(0.96,1)" font-size="9.8" fill="#222">5:57pm</text>
<polygon points="616.56,468.70 618.44,473.11 623.22,473.54 619.60,476.69 620.67,481.36 616.56,478.90 612.44,481.36 613.51,476.69 609.90,473.54 614.68,473.11" fill="#80801e"/><circle cx="616.56" cy="475.70" r="4.3" fill="#bcbc48" stroke="#80801e" stroke-width="0.9"/>
<text transform="translate(623.56,479.80) scale(0.96,1)" font-size="9.8" fill="#222">5:22am</text>
<polygon points="656.67,482.00 658.55,486.41 663.33,486.84 659.71,489.99 660.79,494.66 656.67,492.20 652.56,494.66 653.63,489.99 650.01,486.84 654.79,486.41" fill="#8a5018"/><circle cx="656.67" cy="489.00" r="4.3" fill="#de8a32" stroke="#8a5018" stroke-width="0.9"/>
<text transform="translate(663.67,493.10) scale(0.96,1)" font-size="9.8" fill="#222">5:57pm</text>
<circle cx="131.53" cy="503.0" r="5" fill="#ffffcc" stroke="#808080" stroke-width="1"/>
<text transform="translate(138.53,507.10) scale(0.96,1)" font-size="9.8" fill="#222">9:13pm</text>
<circle cx="210.65" cy="503.0" r="5" fill="#ffffcc" stroke="#808080" stroke-width="1"/>
<text transform="translate(217.65,507.10) scale(0.96,1)" font-size="9.8" fill="#222">10:02pm</text>
<circle cx="289.70" cy="503.0" r="5" fill="#ffffcc" stroke="#808080" stroke-width="1"/>
<text transform="translate(296.70,507.10) scale(0.96,1)" font-size="9.8" fill="#222">10:50pm</text>
<circle cx="368.65" cy="503.0" r="5" fill="#ffffcc" stroke="#808080" stroke-width="1"/>
<text transform="translate(375.65,507.10) scale(0.96,1)" font-size="9.8" fill="#222">11:36pm</text>
<circle cx="447.50" cy="503.0" r="5" fill="#ffffcc" stroke="#808080" stroke-width="1"/>
<text transform="translate(454.50,507.10) scale(0.96,1)" font-size="9.8" fill="#222">12:20am</text>
<circle cx="526.29" cy="503.0" r="5" fill="#ffffcc" stroke="#808080" stroke-width="1"/>
<text transform="translate(533.29,507.10) scale(0.96,1)" font-size="9.8" fill="#222">1:03am</text>
<circle cx="605.03" cy="503.0" r="5" fill="#ffffcc" stroke="#808080" stroke-width="1"/>
<text transform="translate(612.03,507.10) scale(0.96,1)" font-size="9.8" fill="#222">1:45am</text>
<circle cx="683.82" cy="503.0" r="5" fill="#ffffcc" stroke="#808080" stroke-width="1"/>
<text transform="translate(690.82,507.10) scale(0.96,1)" font-size="9.8" fill="#222">2:28am</text>
<circle cx="90.25" cy="516.4" r="5" fill="#c8c5b8" stroke="#7a7a7a" stroke-width="1"/>
<text transform="translate(97.25,520.50) scale(0.96,1)" font-size="9.8" fill="#222">8:16am</text>
<circle cx="169.31" cy="516.4" r="5" fill="#c8c5b8" stroke="#7a7a7a" stroke-width="1"/>
<text transform="translate(176.31,520.50) scale(0.96,1)" font-size="9.8" fill="#222">9:04am</text>
<circle cx="248.42" cy="516.4" r="5" fill="#c8c5b8" stroke="#7a7a7a" stroke-width="1"/>
<text transform="translate(255.42,520.50) scale(0.96,1)" font-size="9.8" fill="#222">9:53am</text>
<circle cx="327.53" cy="516.4" r="5" fill="#c8c5b8" stroke="#7a7a7a" stroke-width="1"/>
<text transform="translate(334.53,520.50) scale(0.96,1)" font-size="9.8" fill="#222">10:42am</text>
<circle cx="406.59" cy="516.4" r="5" fill="#c8c5b8" stroke="#7a7a7a" stroke-width="1"/>
<text transform="translate(413.59,520.50) scale(0.96,1)" font-size="9.8" fill="#222">11:30am</text>
<circle cx="485.70" cy="516.4" r="5" fill="#c8c5b8" stroke="#7a7a7a" stroke-width="1"/>
<text transform="translate(492.70,520.50) scale(0.96,1)" font-size="9.8" fill="#222">12:19pm</text>
<circle cx="564.76" cy="516.4" r="5" fill="#c8c5b8" stroke="#7a7a7a" stroke-width="1"/>
<text transform="translate(571.76,520.50) scale(0.96,1)" font-size="9.8" fill="#222">1:07pm</text>
<circle cx="643.87" cy="516.4" r="5" fill="#c8c5b8" stroke="#7a7a7a" stroke-width="1"/>
<text transform="translate(650.87,520.50) scale(0.96,1)" font-size="9.8" fill="#222">1:56pm</text>
<text transform="translate(378.7,534.1) scale(0.96,1)" font-size="9.8" fill="#222">Last Quarter | 8:08pm</text>
</svg></body></html>
